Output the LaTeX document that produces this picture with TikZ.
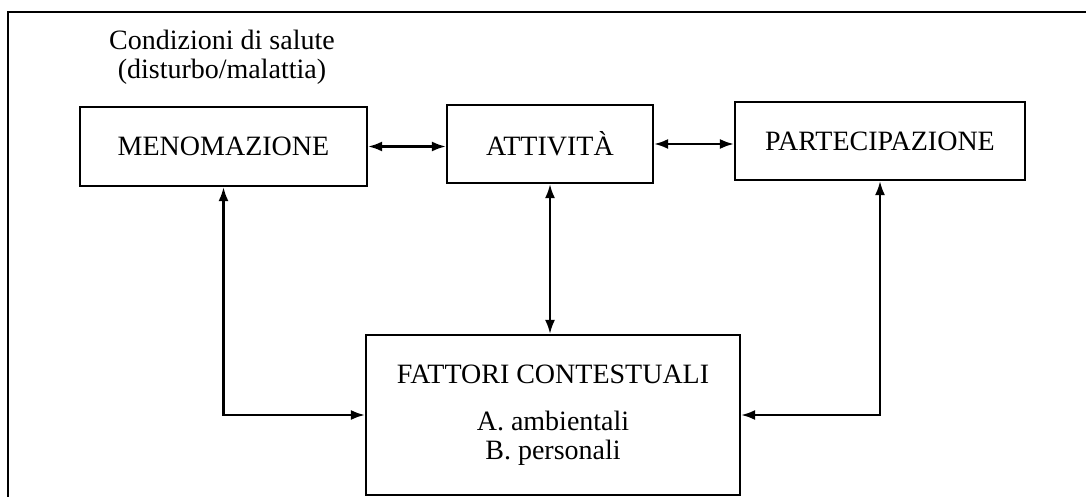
\documentclass[tikz,border=0pt]{standalone}
\usepackage{fontspec}
\setmainfont{Liberation Serif}
\usetikzlibrary{arrows.meta}
\begin{document}
\begin{tikzpicture}[x=1pt,y=-1pt,
  box/.style={draw, line width=2.2pt, inner sep=0pt, font=\fontsize{28}{29}\selectfont},
  link/.style={line width=2.2pt, {Latex[length=14pt,width=10pt]}-{Latex[length=14pt,width=10pt]}},
  frame/.style={line width=2.8pt}]
\useasboundingbox (0,0) rectangle (1086,497);
\coordinate (ftl) at (8,12);
\coordinate (ftr) at (1086,12);
\coordinate (fbl) at (8,497);
\draw[frame] (fbl) -- (ftl) -- (ftr);
\node[font=\fontsize{28}{29}\selectfont, align=center] (cond) at (222,57) {Condizioni di salute\\(disturbo/malattia)};
\node[box, minimum width=287pt, minimum height=79pt] (men) at (223.5,146.5) {MENOMAZIONE};
\node[box, minimum width=206pt, minimum height=78pt] (att) at (550,144) {ATTIVITÀ};
\node[box, minimum width=290pt, minimum height=78pt] (par) at (880,141) {PARTECIPAZIONE};
\node[box, minimum width=374pt, minimum height=160pt, align=center] (fat) at (553,415)
  {FATTORI CONTESTUALI\\[18pt]A. ambientali\\B. personali};
\draw[link] (men.east) -- (men.east -| att.west);
\draw[link] (att.east) -- (att.east -| par.west);
\draw[link] (att.south) -- (att.south |- fat.north);
\draw[link] (men.south) |- (fat.west);
\draw[link] (par.south) |- (fat.east);
\end{tikzpicture}
\end{document}
